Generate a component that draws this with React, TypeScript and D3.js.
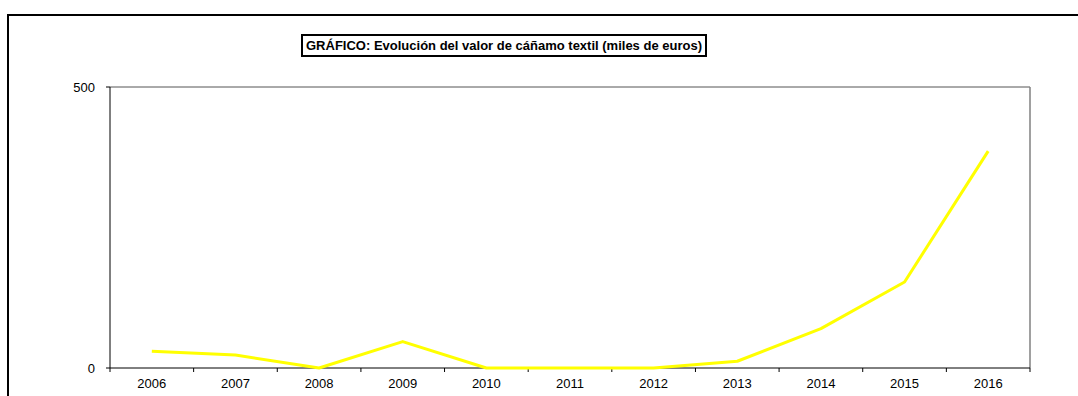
import React from "react";
import * as d3 from "d3";

const years = ["2006", "2007", "2008", "2009", "2010", "2011", "2012", "2013", "2014", "2015", "2016"];
const values = [30, 23, 0, 47, 0, 0, 0, 12, 70, 153, 386];
const yTicks = [0, 500];
const title = "GRÁFICO: Evolución del valor de cáñamo textil (miles de euros)";

export default function App() {
  const W = 1078, H = 396;
  const left = 110, right = 1030, top = 87, bottom = 368;
  const x = d3.scaleBand<string>().domain(years).range([left, right]).padding(0);
  const y = d3.scaleLinear().domain([0, 500]).range([bottom, top]);
  const line = d3.line<number>()
    .x((_, i) => (x(years[i]) as number) + x.bandwidth() / 2)
    .y((d) => y(d));
  const font = "'Liberation Sans', Arial, sans-serif";
  const tickXs = years.map((yr) => x(yr) as number).concat([right]);
  return (
    <svg width={W} height={H} style={{ position: "absolute", left: 0, top: 0 }}>
      <rect x={0} y={0} width={W} height={H} fill="#fff" />
      <rect x={8} y={15} width={1080} height={400} fill="none" stroke="#000" strokeWidth={2} />
      <rect x={302} y={35} width={404} height={21} fill="#fff" stroke="#000" strokeWidth={2} />
      <text x={504} y={50} textAnchor="middle" fontFamily={font} fontSize={13.5} fontWeight="bold" textLength={396} lengthAdjust="spacingAndGlyphs">{title}</text>
      {/* plot frame */}
      <line x1={left} y1={top} x2={right} y2={top} stroke="#555" strokeWidth={1} />
      <line x1={right} y1={top} x2={right} y2={bottom} stroke="#808080" strokeWidth={1.5} />
      <line x1={left} y1={top} x2={left} y2={bottom} stroke="#000" strokeWidth={1} />
      <line x1={left} y1={bottom} x2={right} y2={bottom} stroke="#000" strokeWidth={1} />
      {yTicks.map((t) => (
        <g key={t}>
          <line x1={left - 4} y1={y(t)} x2={left} y2={y(t)} stroke="#000" />
          <text x={95} y={y(t) + 4.5} textAnchor="end" fontFamily={font} fontSize={13}>{t}</text>
        </g>
      ))}
      {tickXs.map((tx, i) => (
        <line key={i} x1={tx} y1={bottom} x2={tx} y2={bottom + 4} stroke="#000" />
      ))}
      {years.map((yr) => (
        <text key={yr} x={(x(yr) as number) + x.bandwidth() / 2} y={bottom + 20} textAnchor="middle" fontFamily={font} fontSize={13}>{yr}</text>
      ))}
      <path d={line(values) || ""} fill="none" stroke="#ffff00" strokeWidth={3} strokeLinejoin="round" />
    </svg>
  );
}
